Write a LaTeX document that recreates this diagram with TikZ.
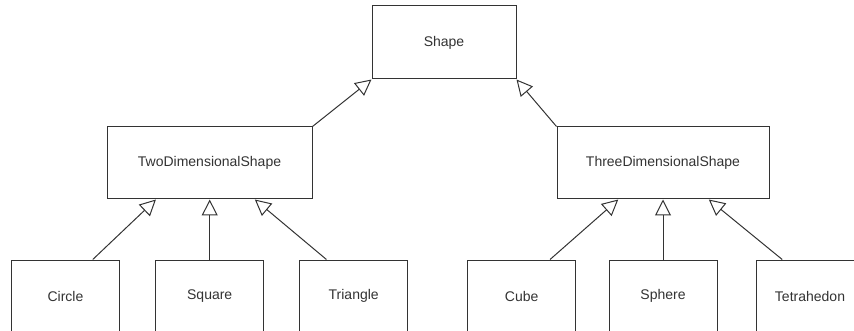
\documentclass[tikz,border=0pt]{standalone}
\usepackage{fontspec}
\setmainfont{Liberation Sans}
\usetikzlibrary{calc,arrows.meta}
\definecolor{linec}{HTML}{333333}
\definecolor{textc}{HTML}{333333}
\tikzset{
  box/.style={draw=linec, line width=1pt, fill=white, rectangle, inner sep=0pt,
    text=textc, font=\fontsize{14pt}{16pt}\selectfont},
  inherit/.style={draw=linec, line width=1pt,
    -{Triangle[open, length=16pt, width=16pt, line width=1pt]}}
}
\begin{document}
\begin{tikzpicture}[x=1pt,y=-1pt]
\useasboundingbox (0,0) rectangle (854,331);
\clip (0,0) rectangle (854,331);
\node[box, minimum width=144pt, minimum height=73pt] (shape) at (444,42.5) {Shape};
\node[box, minimum width=205pt, minimum height=72pt] (two) at (209.5,163) {TwoDimensionalShape};
\node[box, minimum width=212pt, minimum height=72pt] (three) at (663,163) {ThreeDimensionalShape};
\node[box, minimum width=108pt, minimum height=72pt] (circle) at (65.5,296) {Circle};
\node[box, minimum width=108pt, minimum height=72pt] (square) at (209.7,296) {Square};
\node[box, minimum width=108pt, minimum height=72pt] (triangle) at (353.7,296) {Triangle};
\node[box, minimum width=108pt, minimum height=72pt] (cube) at (521.7,296) {Cube};
\node[box, minimum width=108pt, minimum height=72pt] (sphere) at (663,296) {Sphere};
\node[box, minimum width=108pt, minimum height=72pt] (tetra) at (810,296) {Tetrahedon};
\draw[inherit] (two.north east) -- (shape.south west);
\draw[inherit] (three.north west) -- (shape.south east);
\draw[inherit] ($(circle.north west)!0.75!(circle.north east)$) -- ($(two.south west)!0.24!(two.south east)$);
\draw[inherit] (square.north) -- (square.north |- two.south);
\draw[inherit] ($(triangle.north west)!0.25!(triangle.north east)$) -- ($(two.south west)!0.72!(two.south east)$);
\draw[inherit] ($(cube.north west)!0.76!(cube.north east)$) -- ($(three.south west)!0.29!(three.south east)$);
\draw[inherit] (sphere.north) -- (sphere.north |- three.south);
\draw[inherit] ($(tetra.north west)!0.245!(tetra.north east)$) -- ($(three.south west)!0.715!(three.south east)$);
\end{tikzpicture}
\end{document}
